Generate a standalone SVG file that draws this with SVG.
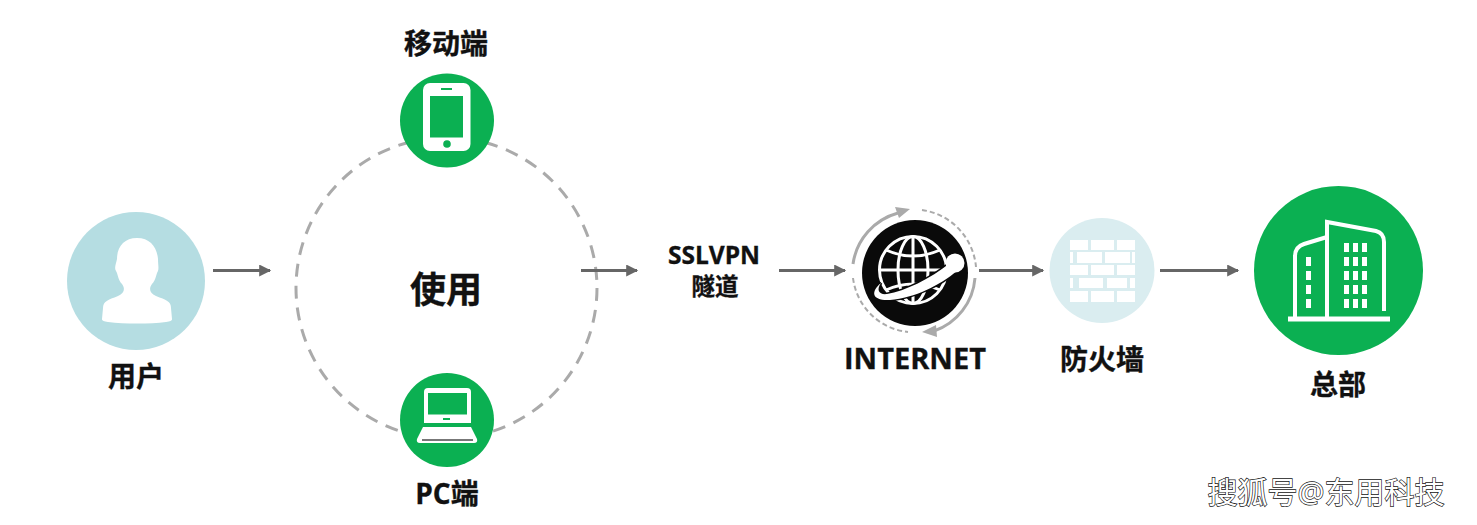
<svg xmlns="http://www.w3.org/2000/svg" width="1477" height="525" viewBox="0 0 1477 525">
<style>
text{font-family:"Open Sans","Noto Sans CJK SC",sans-serif;font-weight:700;fill:#111;stroke:#111;stroke-width:.35;text-anchor:middle}
.green{fill:#0bb052}
.conn{stroke:#666;stroke-width:3;fill:none;marker-end:url(#arr)}
.ring{stroke:#aaa;stroke-width:3;fill:none}
.dash{stroke:#aaa;stroke-width:2;stroke-dasharray:5 3;fill:none}
.w{fill:#fff}
.wl{stroke:#fff;fill:none}
text.wm{font-size:30px;font-weight:400;fill:#fff;stroke:#111;stroke-width:1.300;paint-order:stroke}
</style>
<defs>
<marker id="arr" viewBox="0 0 10 10" refX="9" refY="5" markerWidth="4.500" markerHeight="4" orient="auto"><path d="M0 0L10 5L0 10Z" fill="#666"/></marker>
</defs>
<rect width="1477" height="525" fill="#fff"/>
<g id="connectors">
<circle cx="446.500" cy="288" r="150.500" fill="none" stroke="#aaa" stroke-width="3" stroke-dasharray="13 9"/>
<path class="conn" d="M213 270.500H270"/>
<path class="conn" d="M581 270.500H637"/>
<path class="conn" d="M779 270.500H845"/>
<path class="conn" d="M979 270.500H1043"/>
<path class="conn" d="M1160 270.500H1238"/>
</g>
<g id="user">
<circle cx="136" cy="281" r="69" fill="#b5dde2"/>
<path class="w" d="M137 238C124 238 117 247 117 259C116 264 114 268 116 271C118 274 118 280 122 284C125 288 125 293 118 296C108 300 103 301 103 308L102 319C102 321 104 321 108 322C125 324 150 324 166 322C170 321 172 321 172 319L171 308C171 301 166 300 156 296C149 293 149 288 152 284C156 280 156 274 158 271C159 268 158 264 158 259C157 247 150 238 137 238Z"/>
<text x="136" y="387" font-size="28">用户</text>
</g>
<g id="mobile">
<text x="446" y="54" font-size="28">移动端</text>
<circle class="green" cx="447" cy="120.500" r="47"/>
<rect class="w" x="423" y="83" width="47.500" height="68" rx="7"/>
<rect class="green" x="430" y="96" width="33" height="41.500"/>
<rect class="green" x="441" y="88" width="11" height="2"/>
<circle class="green" cx="447" cy="144" r="3.800"/>
</g>
<g id="usage">
<text x="446" y="303" font-size="36">使用</text>
</g>
<g id="pc">
<circle class="green" cx="447" cy="420" r="47"/>
<path class="w" d="M428 388H467Q471 388 471 392V423H424V392Q424 388 428 388Z"/>
<rect class="green" x="428" y="393" width="39" height="21.500"/>
<rect class="green" x="443" y="418" width="7" height="2"/>
<path class="w" d="M423 427H471L477 439Q478 443 474 443H420Q416 443 417 439Z"/>
<rect x="422" y="439" width="51" height="2" fill="#777"/>
<text x="447" y="504" font-size="28">PC端</text>
</g>
<g id="tunnel">
<text x="714" y="264" font-size="24.500">SSLVPN</text>
<text x="715" y="295" font-size="23.500">隧道</text>
</g>
<g id="internet">
<path class="ring" d="M853 264A62 62 0 0 1 898 213"/>
<path d="M895 207L910 209L899 218Z" fill="#aaa"/>
<path class="dash" d="M922 210A63 63 0 0 1 976 267"/>
<path class="ring" d="M975 278A61 61 0 0 1 934 331"/>
<path d="M922 332L936 325L937 337Z" fill="#aaa"/>
<path class="dash" d="M853 278A62 62 0 0 0 908 332"/>
<circle cx="915" cy="273" r="53" fill="#0a0a0a"/>
<g class="wl" stroke-width="3">
<circle cx="913" cy="270" r="33.500"/>
<ellipse cx="913" cy="270" rx="15" ry="33.500"/>
<path d="M913 236V304M880 270H946M886 250Q913 262 940 250M886 290Q913 278 940 290"/>
</g>
<path class="w" stroke="#0a0a0a" stroke-width="3" paint-order="stroke" d="M881 283C870 292 872 301 890 300C915 298 940 285 957 271L950 263C930 279 905 291 887 294C879 295 876 290 881 283Z"/>
<circle class="w" cx="955" cy="263" r="9.500"/>
<text x="915" y="369" font-size="29">INTERNET</text>
</g>
<g id="firewall">
<circle cx="1102" cy="270.500" r="52.500" fill="#daedf0"/>
<g class="w">
<rect x="1070" y="240" width="18" height="10"/><rect x="1091" y="240" width="23" height="10"/><rect x="1117" y="240" width="18" height="10"/>
<rect x="1070" y="252" width="3" height="11"/><rect x="1077" y="252" width="25" height="11"/><rect x="1105" y="252" width="25" height="11"/><rect x="1132" y="252" width="3" height="11"/>
<rect x="1070" y="265" width="18" height="10"/><rect x="1091" y="265" width="23" height="10"/><rect x="1117" y="265" width="18" height="10"/>
<rect x="1070" y="278" width="3" height="10"/><rect x="1079" y="278" width="24" height="10"/><rect x="1107" y="278" width="20" height="10"/><rect x="1130" y="278" width="5" height="10"/>
<rect x="1070" y="291" width="18" height="11"/><rect x="1091" y="291" width="23" height="11"/><rect x="1117" y="291" width="18" height="11"/>
</g>
<text x="1102" y="370" font-size="28">防火墙</text>
</g>
<g id="hq">
<circle class="green" cx="1338.500" cy="270.500" r="84.500"/>
<g class="wl" stroke-width="4">
<path stroke-width="5" d="M1288 319H1390"/>
<path d="M1327 319V222L1376 231Q1384 233 1384 242V311"/>
<path d="M1327 237L1304 244Q1295 247 1295 256V319"/>
</g>
<g class="w" id="hq-windows">
<rect x="1306" y="257" width="5" height="9"/><rect x="1306" y="271" width="5" height="9"/><rect x="1306" y="285" width="5" height="9"/><rect x="1306" y="299" width="5" height="9"/>
<rect x="1344" y="243" width="5" height="9"/><rect x="1353" y="243" width="5" height="9"/><rect x="1362" y="243" width="5" height="9"/>
<rect x="1344" y="257" width="5" height="9"/><rect x="1353" y="257" width="5" height="9"/><rect x="1362" y="257" width="5" height="9"/>
<rect x="1344" y="271" width="5" height="9"/><rect x="1353" y="271" width="5" height="9"/><rect x="1362" y="271" width="5" height="9"/>
<rect x="1344" y="285" width="5" height="9"/><rect x="1353" y="285" width="5" height="9"/><rect x="1362" y="285" width="5" height="9"/>
<rect x="1344" y="299" width="5" height="9"/><rect x="1353" y="299" width="5" height="9"/><rect x="1362" y="299" width="5" height="9"/>
</g>
<text x="1338" y="395" font-size="28">总部</text>
</g>
<text class="wm" x="1326" y="503">搜狐号@东用科技</text>
</svg>
